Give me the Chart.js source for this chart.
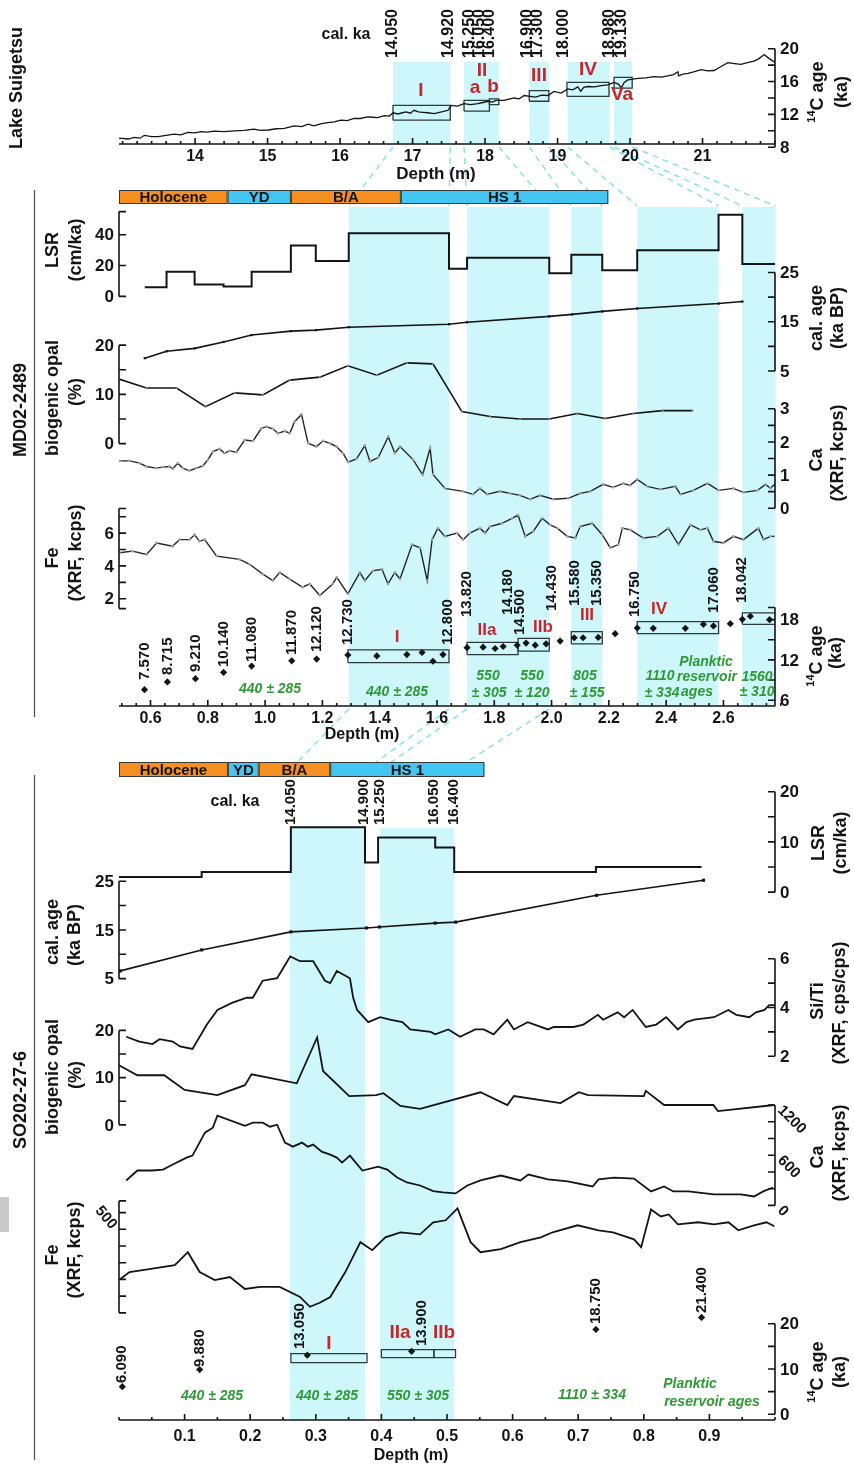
<!DOCTYPE html>
<html>
<head>
<meta charset="utf-8">
<title>Suigetsu / MD02-2489 / SO202-27-6</title>
<style>
  html, body { margin: 0; padding: 0; background: #fff; overflow: hidden; }
  #wrap { position: relative; width: 854px; height: 1468px; }
  canvas { display: block; }
  .blot { position: absolute; left: 0; top: 1197px; width: 9px; height: 35px; background: #c9c9c9; }
</style>
<script src="https://cdn.jsdelivr.net/npm/chart.js@4.4.1/dist/chart.umd.min.js"></script>
</head>
<body>
<div id="wrap">
  <canvas id="core" width="854" height="1468"></canvas>
  <div class="blot"></div>
</div>
<script>
// ---------- Lake Suigetsu ----------
const sgDepth = [12.95,13.08,13.16,13.24,13.30,13.40,13.49,13.60,13.71,13.80,13.90,14.00,14.08,14.17,14.26,14.40,14.54,14.68,14.81,14.90,
  15.01,15.12,15.23,15.30,15.37,15.47,15.56,15.64,15.73,15.83,15.92,16.01,16.10,16.19,16.28,16.38,16.45,16.52,16.61,16.68,
  16.73,16.80,16.86,16.91,16.97,17.02,17.08,17.14,17.21,17.30,17.40,17.49,17.53,17.62,17.71,17.80,17.90,17.97,18.04,18.10,
  18.15,18.26,18.33,18.40,18.47,18.54,18.62,18.70,18.78,18.87,18.95,19.05,19.14,19.21,19.28,19.32,19.36,19.42,19.51,19.60,
  19.69,19.78,19.84,19.88,19.92,19.97,20.04,20.11,20.22,20.33,20.43,20.52,20.60,20.66,20.67,20.73,20.80,20.89,20.98,21.07,
  21.16,21.25,21.35,21.44,21.53,21.62,21.71,21.78,21.85,21.92,21.99];
const sgAge = [9.1,9.0,9.2,9.1,9.45,9.3,9.3,9.45,9.6,9.5,9.8,9.75,9.9,9.85,9.95,9.9,10.0,10.05,10.2,10.05,
  10.1,10.25,10.3,10.45,10.6,10.5,10.8,10.6,10.85,11.0,11.1,11.3,11.25,11.5,11.5,11.7,11.65,11.6,11.85,11.8,
  12.2,12.05,12.2,12.3,12.15,12.5,12.3,12.25,12.2,12.1,12.3,12.5,13.1,13.0,13.3,13.2,13.3,13.45,13.6,13.5,
  13.7,13.7,13.85,14.0,13.9,14.3,14.2,14.1,14.35,14.3,14.8,14.6,15.1,15.0,15.35,14.8,15.3,15.4,15.35,15.5,
  15.6,15.9,15.7,15.25,15.9,16.2,16.3,16.4,16.45,16.6,16.55,16.7,16.85,17.2,16.7,16.9,17.0,17.2,17.45,17.3,
  17.35,17.8,18.3,18.2,18.1,18.3,18.5,18.8,19.3,18.8,18.4];
const sgBands = [[16.73,17.52],[17.71,18.19],[18.61,18.88],[19.14,19.72],[19.78,20.03]];
const sgBoxes = [[16.73,17.52,11.3,13.1],[17.71,18.06,12.4,13.7],[18.06,18.19,13.2,13.9],
  [18.61,18.88,13.6,14.9],[19.13,19.71,14.2,15.9],[19.78,20.03,15.2,16.5]];
const sgCalKa = ['14.050','14.920','15.250','16.050','16.400','16.900','17.300','18.000','18.980','19.130'];
const sgCalKaDepth = [16.73,17.50,17.78,17.92,18.06,18.59,18.73,19.09,19.72,19.88];
const sgDepthTicks = [14,15,16,17,18,19,20,21];

// ---------- MD02-2489 ----------
const eraNames = ['Holocene','YD','B/A','HS 1'];
const mdEraEdges = [0.49,0.869,1.09,1.474,2.198];
const mdBands = [[1.292,1.642],[1.705,1.992],[2.069,2.177],[2.299,2.583],[2.666,2.782]];
const mdLsrDepth = [0.58,0.656,0.754,0.855,0.953,1.09,1.177,1.292,1.642,1.705,1.992,2.069,2.177,2.299,2.583,2.666,2.782];
const mdLsr = [6,16,7.7,6.5,16,33,23,41,18,25,15,27,17,30,53,21,21];
const mdCalDepth = [0.58,0.656,0.754,0.855,0.953,1.09,1.177,1.292,1.642,1.705,1.992,2.072,2.177,2.299,2.583,2.666];
const mdCal = [7.6,9.0,9.6,10.9,12.3,13.1,13.3,13.9,14.5,14.9,16.1,16.5,17.1,17.7,18.7,19.1];
const mdOpalDepth = [0.49,0.586,0.691,0.792,0.894,0.992,1.086,1.191,1.289,1.39,1.495,1.586,1.687,1.785,1.89,1.992,2.09,2.187,2.285,2.387,2.492];
const mdOpal = [13.1,11.3,11.3,7.5,10.3,9.9,12.9,13.5,15.8,13.9,16.4,16.2,6.5,5.5,5.0,5.0,6.1,5.1,6.1,6.7,6.7];
const mdCaDepth = [0.492,0.527,0.562,0.585,0.620,0.643,0.666,0.678,0.695,0.713,0.736,0.760,0.783,0.800,0.818,0.841,0.859,0.876,0.900,0.929,
  0.958,0.987,1.005,1.028,1.045,1.069,1.086,1.103,1.127,1.150,1.179,1.202,1.226,1.249,1.272,1.290,1.319,1.348,1.366,1.395,
  1.430,1.453,1.471,1.517,1.550,1.576,1.586,1.628,1.691,1.726,1.750,1.775,1.820,1.855,1.890,1.925,1.960,2.006,2.058,2.100,
  2.135,2.180,2.215,2.250,2.274,2.299,2.334,2.380,2.432,2.450,2.495,2.544,2.583,2.635,2.670,2.719,2.747,2.764,2.782];
const mdCa = [1.43,1.43,1.36,1.26,1.21,1.24,1.26,1.19,1.36,1.21,1.13,1.21,1.28,1.46,1.71,1.79,1.66,1.73,1.69,2.06,
  2.03,2.41,2.46,2.39,2.26,2.33,2.26,2.61,2.83,1.96,1.86,2.03,1.96,1.86,1.66,1.39,1.49,1.89,1.41,1.53,
  2.16,1.66,1.86,1.46,1.01,1.81,1.02,0.60,0.51,0.42,0.60,0.42,0.51,0.45,0.39,0.27,0.39,0.27,0.30,0.45,
  0.51,0.72,0.63,0.75,0.69,0.87,0.66,0.57,0.66,0.42,0.54,0.75,0.54,0.60,0.48,0.54,0.72,0.60,0.75];
const mdFeDepth = [0.492,0.537,0.586,0.621,0.677,0.701,0.736,0.754,0.771,0.789,0.831,0.911,0.946,0.992,1.027,1.051,1.086,1.131,1.156,1.191,
  1.236,1.250,1.289,1.331,1.348,1.376,1.408,1.429,1.453,1.471,1.513,1.541,1.566,1.583,1.603,1.628,1.670,1.691,1.715,1.750,
  1.768,1.785,1.827,1.862,1.883,1.908,1.936,1.967,1.995,2.020,2.055,2.083,2.100,2.142,2.177,2.205,2.233,2.247,2.275,2.320,
  2.369,2.408,2.443,2.485,2.520,2.544,2.565,2.600,2.635,2.670,2.722,2.740,2.764,2.782];
const mdFe = [4.8,4.9,4.7,5.4,5.2,5.6,5.6,5.9,5.5,5.6,4.6,4.4,4.1,3.5,3.1,3.6,3.2,2.7,2.9,2.2,
  2.9,3.3,2.3,3.6,3.1,3.7,3.8,2.9,3.6,3.2,5.3,5.1,3.1,5.6,6.3,5.8,6.0,5.6,6.0,6.3,
  6.0,6.4,6.6,6.9,7.1,5.8,6.1,6.9,6.5,6.3,5.8,5.7,6.4,6.6,5.9,5.1,5.3,6.3,6.2,5.7,
  5.8,6.3,5.3,6.5,6.2,6.3,5.5,5.4,5.8,5.6,6.3,5.6,5.8,5.8];
const md14cDepth = [0.579,0.659,0.757,0.855,0.953,1.093,1.180,1.289,1.390,1.495,1.548,1.586,1.621,1.705,1.761,1.803,1.831,1.880,1.911,1.943,
  1.981,2.030,2.079,2.110,2.163,2.222,2.299,2.355,2.467,2.530,2.565,2.624,2.666,2.694,2.761];
const md14c = [7.57,8.715,9.21,10.14,11.08,11.87,12.12,12.73,12.6,12.8,13.1,11.8,12.8,13.82,13.9,13.7,14.0,14.18,14.5,14.2,
  14.4,14.8,15.3,15.3,15.35,15.9,16.75,16.7,16.7,17.3,17.06,17.4,18.04,18.5,18.0];
const mdBoxes = [[1.289,1.642,11.6,13.5],[1.705,1.883,12.8,14.6],[1.883,1.992,13.3,15.2],
  [2.069,2.177,14.4,16.2],[2.299,2.583,15.9,17.7],[2.666,2.782,17.3,19.0]];
const mdAgeLabels = ['7.570','8.715','9.210','10.140','11.080','11.870','12.120','12.730','12.800','13.820',
  '14.180','14.500','14.430','15.580','15.350','16.750','17.060','18.042'];
const mdAgeLabelDepth = [0.579,0.659,0.757,0.855,0.953,1.093,1.180,1.289,1.638,1.705,1.848,1.890,2.002,2.083,2.159,2.292,2.565,2.663];
const mdDepthTicks = [0.6,0.8,1.0,1.2,1.4,1.6,1.8,2.0,2.2,2.4,2.6];

// ---------- SO202-27-6 ----------
const soEraEdges = [0,0.166,0.213,0.322,0.557];
const soBands = [[0.2605,0.375],[0.398,0.511]];
const soLsrDepth = [0,0.126,0.262,0.375,0.395,0.482,0.511,0.727,0.888];
const soLsr = [3.0,4.0,12.9,5.9,10.9,8.9,4.0,5.0,5.0];
const soCalDepth = [0.002,0.126,0.262,0.377,0.397,0.482,0.513,0.728,0.891];
const soCal = [6.6,10.9,14.6,15.4,15.6,16.4,16.6,22.1,25.2];
const soSiTiDepth = [0.011,0.031,0.051,0.062,0.082,0.093,0.112,0.134,0.150,0.173,0.195,0.204,0.219,0.241,0.250,0.261,0.276,0.296,0.314,0.322,
  0.332,0.352,0.357,0.363,0.380,0.398,0.413,0.432,0.444,0.475,0.482,0.502,0.520,0.543,0.556,0.571,0.592,0.602,0.623,0.654,
  0.663,0.693,0.708,0.730,0.738,0.760,0.770,0.783,0.803,0.819,0.834,0.852,0.865,0.877,0.907,0.929,0.941,0.961,0.971,0.984,
  0.991,1.0];
const soSiTi = [2.8,2.6,2.5,2.7,2.6,2.4,2.3,3.3,3.9,4.2,4.4,4.4,5.1,5.2,5.6,6.1,5.9,5.9,5.1,5.0,
  5.5,5.2,4.4,3.9,3.4,3.6,3.5,3.4,3.1,3.0,2.9,3.1,2.8,3.1,3.1,2.9,3.5,3.1,3.4,3.1,
  3.2,3.2,3.3,3.7,3.5,3.8,3.6,3.9,3.2,3.3,3.6,3.1,3.4,3.5,3.6,3.9,3.7,3.6,3.8,3.9,
  4.1,4.1];
const soOpalDepth = [0.0,0.028,0.069,0.1,0.150,0.192,0.202,0.271,0.302,0.311,0.351,0.392,0.403,0.429,0.459,0.551,0.592,0.602,0.673,0.701,
  0.715,0.800,0.803,0.831,0.906,0.913,0.999];
const soOpal = [12.6,10.5,10.5,7.4,6.3,8.4,10.7,8.8,18.5,11.4,6.1,6.3,6.7,4.0,3.4,6.9,4.2,6.1,4.6,6.9,
  6.3,6.1,7.2,4.2,4.2,2.9,4.2];
const soCaDepth = [0.011,0.028,0.050,0.067,0.082,0.103,0.112,0.131,0.143,0.150,0.192,0.204,0.219,0.230,0.241,0.253,0.265,0.279,0.288,0.296,
  0.309,0.322,0.332,0.340,0.352,0.371,0.395,0.409,0.424,0.439,0.459,0.479,0.494,0.513,0.531,0.551,0.582,0.612,0.624,0.654,
  0.684,0.722,0.731,0.755,0.785,0.811,0.831,0.845,0.868,0.907,0.948,0.968,0.982,0.997];
const soCa = [298,417,417,428,488,571,595,869,928,1071,952,988,988,940,964,750,702,750,702,726,
  643,607,571,512,595,417,464,428,333,274,238,170,155,143,238,298,357,298,369,310,
  286,226,310,333,321,167,226,167,167,131,131,107,167,214];
const soFeDepth = [0.002,0.016,0.046,0.085,0.105,0.123,0.146,0.169,0.192,0.215,0.245,0.276,0.291,0.306,0.322,0.345,0.368,0.386,0.406,0.429,
  0.459,0.479,0.498,0.516,0.536,0.551,0.582,0.612,0.643,0.661,0.699,0.731,0.753,0.785,0.796,0.811,0.826,0.838,0.852,0.883,
  0.907,0.929,0.944,0.968,0.987,0.999];
const soFe = [202,244,262,286,363,244,196,214,143,155,155,95,36,60,95,244,423,375,452,482,
  470,542,554,625,423,363,381,423,452,482,524,494,482,440,393,619,577,589,530,542,
  530,542,494,524,542,518];
const so14cDepth = [0.005,0.123,0.287,0.446,0.727,0.888];
const so14c = [6.09,9.88,13.05,13.9,18.75,21.4];
const soBoxes = [[0.262,0.378,11.4,13.4],[0.400,0.480,12.5,14.3],[0.480,0.513,12.5,14.3]];
const soAgeLabels = ['6.090','9.880','13.050','13.900','18.750','21.400'];
const soAgeLabelDepth = [0.005,0.123,0.275,0.461,0.727,0.888];
const soCalKa = ['14.050','14.900','15.250','16.050','16.400'];
const soCalKaDepth = [0.262,0.373,0.398,0.480,0.511];
const soDepthTicks = [0.1,0.2,0.3,0.4,0.5,0.6,0.7,0.8,0.9];

// ---------- layout ----------
const H = 1468;
const INK = '#141414';
const RED = '#c7262c';
const GREEN = '#2f9a35';
const CYAN = '#cdf7fa';
const ORANGE = '#f58f1f';
const BLUE = '#43c7f2';
const FONT = '"Liberation Sans", Arial, Helvetica, sans-serif';

// y scales: value/page-pixel anchor pairs
const yAnchors = {
  ySg:    [8, 144, 20, 45],
  yMLsr:  [0, 294, 40, 232],
  yMCal:  [5, 369, 25, 270],
  yMOpal: [0, 442, 20, 343],
  yMCa:   [0, 507, 3, 407],
  yMFe:   [2, 598, 6, 532],
  yM14c:  [6, 700, 18, 619],
  ySLsr:  [0, 893, 20, 792],
  ySCal:  [5, 980, 25, 882],
  ySSiTi: [2, 1058, 6, 960],
  ySOpal: [0, 1127, 20, 1032],
  ySCa:   [0, 1208, 1200, 1107],
  ySFe:   [0, 1316, 500, 1232],
  yS14c:  [0, 1418, 20, 1327]
};
function fit(a) {
  const k = (a[2] - a[0]) / (a[3] - a[1]);
  return { min: a[0] + (H - a[1]) * k, max: a[0] - a[1] * k };
}

const yAxisMarks = [
  { id: 'ySg', side: 'r', span: [8, 20], ticks: [8,10,12,14,16,18,20], labels: [8,12,16,20] },
  { id: 'yMLsr', side: 'l', span: [0, 55], ticks: [0,20,40,55], labels: [0,20,40] },
  { id: 'yMCal', side: 'r', span: [5, 25], ticks: [5,10,15,20,25], labels: [5,15,25] },
  { id: 'yMOpal', side: 'l', span: [0, 20], ticks: [0,5,10,15,20], labels: [0,10,20] },
  { id: 'yMCa', side: 'r', span: [0, 3], ticks: [0,0.5,1,1.5,2,2.5,3], labels: [0,1,2,3] },
  { id: 'yMFe', side: 'l', span: [1.4, 7.5], ticks: [1.4,2,3,4,5,6,7,7.5], labels: [2,4,6] },
  { id: 'yM14c', side: 'r', span: [5.1, 19.8], ticks: [6,9,12,15,18,19.8], labels: [6,12,18] },
  { id: 'ySLsr', side: 'r', span: [0, 20], ticks: [0,5,10,15,20], labels: [0,10,20] },
  { id: 'ySCal', side: 'l', span: [5, 25], ticks: [5,10,15,20,25], labels: [5,15,25] },
  { id: 'ySSiTi', side: 'r', span: [2, 6], ticks: [2,3,4,5,6], labels: [2,4,6] },
  { id: 'ySOpal', side: 'l', span: [0, 20], ticks: [0,5,10,15,20], labels: [0,10,20] },
  { id: 'ySCa', side: 'r', span: [0, 1200], ticks: [0,200,400,600,800,1000,1200], labels: [0,600,1200], rot: 45 },
  { id: 'ySFe', side: 'l', span: [0, 670], ticks: [0,100,200,300,400,500,600,670], labels: [500], rot: 50 },
  { id: 'yS14c', side: 'r', span: [0, 20], ticks: [0,5,10,15,20], labels: [0,10,20] }
];
const xAxisMarks = [
  { id: 'xSg', y: 144, labels: sgDepthTicks, minor: 0.2, from: 13, to: 22, labelY: 157, dec: 0, title: [436, 174], tsize: 17 },
  { id: 'xMd', y: 706, labels: mdDepthTicks, minor: 0.05, from: 0.5, to: 2.78, labelY: 719, dec: 1, title: [362, 735], tsize: 16 },
  { id: 'xSo', y: 1420, labels: soDepthTicks, minor: 0.05, from: 0, to: 1.0, labelY: 1437, dec: 1, title: [411, 1456], tsize: 16 }
];

// ---------- helpers ----------
const pts = (xs, ys) => xs.map((x, i) => ({ x: x, y: ys[i] }));
const boxPts = b => [{x:b[0],y:b[2]},{x:b[1],y:b[2]},{x:b[1],y:b[3]},{x:b[0],y:b[3]},{x:b[0],y:b[2]}];
function line(xId, yId, xs, ys, extra) {
  return Object.assign({
    xAxisID: xId, yAxisID: yId, data: pts(xs, ys),
    borderColor: INK, borderWidth: 1.6, pointRadius: 0, tension: 0, fill: false
  }, extra || {});
}
function boxes(xId, yId, list) {
  return list.map(b => ({
    xAxisID: xId, yAxisID: yId, data: boxPts(b),
    borderColor: '#2c3a3a', borderWidth: 1.3, pointRadius: 0, tension: 0, fill: false
  }));
}
const dotted = { pointRadius: 1.4, pointBackgroundColor: '#a3a3a3', pointBorderWidth: 0, borderWidth: 1.4, borderColor: '#262626' };
const squares = { pointRadius: 2.2, pointStyle: 'rect', pointBackgroundColor: INK, pointBorderWidth: 0 };
const diamonds = { showLine: false, pointRadius: 3.6, pointStyle: 'rectRot', pointBackgroundColor: INK, pointBorderWidth: 0 };

function put(ctx, segs, x, y, o) {
  o = o || {};
  const size = o.size || 16, weight = o.weight || 'bold', style = o.style || 'normal';
  if (typeof segs === 'string') segs = [[segs, size, 0]];
  ctx.save();
  ctx.translate(x, y);
  if (o.rot) ctx.rotate(o.rot * Math.PI / 180);
  ctx.fillStyle = o.color || INK;
  ctx.textBaseline = 'middle';
  ctx.textAlign = 'left';
  let w = 0;
  for (const s of segs) { ctx.font = style + ' ' + weight + ' ' + s[1] + 'px ' + FONT; w += ctx.measureText(s[0]).width; }
  let cx = o.align === 'left' ? 0 : (o.align === 'right' ? -w : -w / 2);
  for (const s of segs) {
    ctx.font = style + ' ' + weight + ' ' + s[1] + 'px ' + FONT;
    ctx.fillText(s[0], cx, s[2]);
    cx += ctx.measureText(s[0]).width;
  }
  ctx.restore();
}
const c14 = [['14', 11, -6], ['C age', 18, 0]];

// axis titles and free text (page positions)
const titles = [
  ['Lake Suigetsu', 17, 88, -90, 18], ['MD02-2489', 21, 410, -90, 18], ['SO202-27-6', 21, 1100, -90, 18],
  [c14, 818, 92, -90], ['(ka)', 842, 92, -90, 18],
  ['LSR', 53, 250, -90, 18], ['(cm/ka)', 76, 250, -90, 18],
  ['biogenic opal', 53, 398, -90, 18], ['(%)', 76, 392, -90, 18],
  ['Fe', 53, 558, -90, 18], ['(XRF, kcps)', 76, 553, -90, 18],
  ['cal. age', 817, 318, -90, 18], ['(ka BP)', 838, 318, -90, 18],
  ['Ca', 817, 460, -90, 18], ['(XRF, kcps)', 838, 453, -90, 18],
  [c14, 817, 656, -90], ['(ka)', 836, 653, -90, 18],
  ['LSR', 819, 843, -90, 18], ['(cm/ka)', 841, 843, -90, 18],
  ['cal. age', 53, 932, -90, 18], ['(ka BP)', 75, 935, -90, 18],
  ['Si/Ti', 818, 1001, -90, 18], ['(XRF, cps/cps)', 840, 1003, -90, 18],
  ['biogenic opal', 53, 1077, -90, 18], ['(%)', 76, 1075, -90, 18],
  ['Ca', 818, 1157, -90, 18], ['(XRF, kcps)', 840, 1153, -90, 18],
  ['Fe', 53, 1255, -90, 18], ['(XRF, kcps)', 75, 1250, -90, 18],
  [c14, 818, 1372, -90], ['(ka)', 840, 1372, -90, 18],
  ['cal. ka', 346, 35, 0, 16], ['cal. ka', 235, 802, 0, 16]
];
const redMarks = [
  ['I', 421, 91, 19], ['II', 482, 71, 19], ['a', 475, 88, 19], ['b', 493, 87, 19], ['III', 539, 76, 19], ['IV', 588, 70, 19], ['Va', 622, 95, 19],
  ['I', 397, 637, 17], ['IIa', 487, 630, 17], ['IIb', 543, 627, 17], ['III', 587, 615, 17], ['IV', 659, 609, 17],
  ['I', 329, 1344, 19], ['IIa', 400, 1333, 19], ['IIb', 444, 1333, 19]
];
const greenNotes = [
  ['440 \u00b1 285', 270, 689], ['440 \u00b1 285', 397, 692], ['550', 488, 676], ['\u00b1 305', 489, 693],
  ['550', 532, 676], ['\u00b1 120', 532, 693], ['805', 585, 676], ['\u00b1 155', 587, 693],
  ['1110', 660, 676], ['\u00b1 334', 662, 693], ['Planktic', 706, 662], ['reservoir', 707, 677], ['ages', 697, 692],
  ['1560', 757, 677], ['\u00b1 310', 757, 692],
  ['440 \u00b1 285', 212, 1396], ['440 \u00b1 285', 327, 1396], ['550 \u00b1 305', 418, 1396], ['1110 \u00b1 334', 592, 1395],
  ['Planktic', 690, 1384], ['reservoir ages', 712, 1402]
];
const mdAgeLabelBottom = [680,675,672,667,662,655,652,645,645,617,615,635,611,606,606,617,613,603];
const soAgeLabelBottom = [1383,1367,1349,1346,1324,1313];

const bandSets = [
  { x: 'xSg', bands: sgBands, top: 62, bottom: 144 },
  { x: 'xMd', bands: mdBands, top: 207, bottom: 706 },
  { x: 'xSo', bands: soBands, top: 828, bottom: 1420 }
];
const links = [
  { a: 'xSg', from: sgBands, y0: 147, b: 'xMd', to: mdBands, y1: 206 },
  { a: 'xMd', from: mdBands.slice(0, 2), y0: 709, b: 'xSo', to: soBands, y1: 770 }
];
const eraBars = [
  { x: 'xMd', edges: mdEraEdges, top: 190, h: 14 },
  { x: 'xSo', edges: soEraEdges, top: 762, h: 15 }
];

const decor = {
  id: 'decor',
  beforeDatasetsDraw(chart) {
    const ctx = chart.ctx, sc = chart.scales;
    ctx.save();
    ctx.fillStyle = CYAN;
    for (const set of bandSets) {
      const s = sc[set.x];
      for (const b of set.bands) {
        const x0 = s.getPixelForValue(b[0]), x1 = s.getPixelForValue(b[1]);
        ctx.fillRect(x0, set.top, x1 - x0, set.bottom - set.top);
      }
    }
    ctx.strokeStyle = '#86e2ec';
    ctx.lineWidth = 1.5;
    ctx.setLineDash([6, 5]);
    for (const l of links) {
      l.from.forEach((band, i) => {
        for (let j = 0; j < 2; j++) {
          ctx.beginPath();
          ctx.moveTo(sc[l.a].getPixelForValue(band[j]), l.y0);
          ctx.lineTo(sc[l.b].getPixelForValue(l.to[i][j]), l.y1);
          ctx.stroke();
        }
      });
    }
    ctx.setLineDash([]);
    // panel side rules
    ctx.strokeStyle = '#555';
    ctx.lineWidth = 1.3;
    ctx.beginPath(); ctx.moveTo(34.5, 190); ctx.lineTo(34.5, 717); ctx.stroke();
    ctx.beginPath(); ctx.moveTo(34.5, 775); ctx.lineTo(34.5, 1460); ctx.stroke();
    ctx.restore();
  },
  afterDatasetsDraw(chart) {
    const ctx = chart.ctx, sc = chart.scales, area = chart.chartArea;
    ctx.save();
    // era bars
    for (const e of eraBars) {
      const s = sc[e.x];
      for (let i = 0; i < eraNames.length; i++) {
        const x0 = s.getPixelForValue(e.edges[i]), x1 = s.getPixelForValue(e.edges[i + 1]);
        ctx.fillStyle = i % 2 ? BLUE : ORANGE;
        ctx.fillRect(x0, e.top, x1 - x0, e.h);
        ctx.strokeStyle = '#3a3a3a'; ctx.lineWidth = 1;
        ctx.strokeRect(x0 + 0.5, e.top + 0.5, x1 - x0 - 1, e.h - 1);
        put(ctx, eraNames[i], (x0 + x1) / 2, e.top + e.h / 2 + 1, { size: 15 });
      }
    }
    // y axes
    ctx.strokeStyle = INK;
    ctx.lineWidth = 1.6;
    for (const a of yAxisMarks) {
      const s = sc[a.id];
      const x = a.side === 'l' ? area.left : area.right;
      const dir = a.side === 'l' ? 1 : -1;
      ctx.beginPath();
      ctx.moveTo(x, s.getPixelForValue(a.span[0]));
      ctx.lineTo(x, s.getPixelForValue(a.span[1]));
      for (const t of a.ticks) {
        const y = s.getPixelForValue(t);
        ctx.moveTo(x, y); ctx.lineTo(x + dir * 7, y);
      }
      ctx.stroke();
      for (const v of a.labels) {
        const y = s.getPixelForValue(v);
        if (a.rot) put(ctx, String(v), x - dir * 5, y + (a.side === 'l' ? -2 : 3), { size: 15, rot: a.rot, align: a.side === 'l' ? 'right' : 'left' });
        else put(ctx, String(v), x - dir * 5, y + 1, { size: 17, align: a.side === 'l' ? 'right' : 'left' });
      }
    }
    // x axes
    for (const a of xAxisMarks) {
      const s = sc[a.id];
      ctx.beginPath();
      ctx.moveTo(area.left, a.y); ctx.lineTo(area.right, a.y);
      const n = Math.round((a.to - a.from) / a.minor);
      for (let i = 0; i <= n; i++) {
        const v = a.from + i * a.minor;
        const px = s.getPixelForValue(v);
        ctx.moveTo(px, a.y); ctx.lineTo(px, a.y - 3);
      }
      for (const v of a.labels) {
        const px = s.getPixelForValue(v);
        ctx.moveTo(px, a.y); ctx.lineTo(px, a.y - 6);
      }
      ctx.stroke();
      for (const v of a.labels) put(ctx, v.toFixed(a.dec), s.getPixelForValue(v), a.labelY, { size: 16 });
      put(ctx, 'Depth (m)', a.title[0], a.title[1], { size: a.tsize });
    }
    // rotated age labels
    sgCalKa.forEach((t, i) => put(ctx, t, sc.xSg.getPixelForValue(sgCalKaDepth[i]), 58, { size: 16, rot: -90, align: 'left' }));
    mdAgeLabels.forEach((t, i) => put(ctx, t, sc.xMd.getPixelForValue(mdAgeLabelDepth[i]), mdAgeLabelBottom[i], { size: 15, rot: -90, align: 'left' }));
    soCalKa.forEach((t, i) => put(ctx, t, sc.xSo.getPixelForValue(soCalKaDepth[i]), 825, { size: 15, rot: -90, align: 'left' }));
    soAgeLabels.forEach((t, i) => put(ctx, t, sc.xSo.getPixelForValue(soAgeLabelDepth[i]), soAgeLabelBottom[i], { size: 15, rot: -90, align: 'left' }));
    // titles & notes
    for (const t of titles) put(ctx, t[0], t[1], t[2], { rot: t[3], size: t[4] || 18 });
    for (const r of redMarks) put(ctx, r[0], r[1], r[2], { size: r[3], color: RED });
    for (const g of greenNotes) put(ctx, g[0], g[1], g[2], { size: 14, color: GREEN, style: 'italic' });
    ctx.restore();
  }
};

const scales = {
  xSg: { type: 'linear', min: 12.95, max: 22, display: false },
  xMd: { type: 'linear', min: 0.49, max: 2.78, display: false },
  xSo: { type: 'linear', min: 0, max: 1.0, display: false }
};
for (const id of Object.keys(yAnchors)) {
  scales[id] = Object.assign({ type: 'linear', display: false }, fit(yAnchors[id]));
}

const datasets = [
  line('xSg', 'ySg', sgDepth, sgAge, { borderWidth: 1.3 }),
  ...boxes('xSg', 'ySg', sgBoxes),

  line('xMd', 'yMLsr', mdLsrDepth, mdLsr, { stepped: 'before', borderWidth: 2 }),
  line('xMd', 'yMCal', mdCalDepth, mdCal, Object.assign({}, squares, { pointRadius: 1.6 })),
  line('xMd', 'yMOpal', mdOpalDepth, mdOpal, { pointRadius: 1.1, pointBackgroundColor: '#8a8a8a', pointBorderWidth: 0 }),
  line('xMd', 'yMCa', mdCaDepth, mdCa, dotted),
  line('xMd', 'yMFe', mdFeDepth, mdFe, dotted),
  line('xMd', 'yM14c', md14cDepth, md14c, diamonds),
  ...boxes('xMd', 'yM14c', mdBoxes),

  line('xSo', 'ySLsr', soLsrDepth, soLsr, { stepped: 'before', borderWidth: 2 }),
  line('xSo', 'ySCal', soCalDepth, soCal, squares),
  line('xSo', 'ySSiTi', soSiTiDepth, soSiTi, { borderWidth: 1.8 }),
  line('xSo', 'ySOpal', soOpalDepth, soOpal, { borderWidth: 1.8 }),
  line('xSo', 'ySCa', soCaDepth, soCa, { borderWidth: 1.8 }),
  line('xSo', 'ySFe', soFeDepth, soFe, { borderWidth: 1.8 }),
  line('xSo', 'yS14c', so14cDepth, so14c, diamonds),
  ...boxes('xSo', 'yS14c', soBoxes)
];

new Chart(document.getElementById('core'), {
  type: 'line',
  data: { datasets: datasets },
  options: {
    responsive: false,
    animation: false,
    events: [],
    layout: { padding: { left: 119, right: 79, top: 0, bottom: 0 } },
    plugins: { legend: { display: false }, tooltip: { enabled: false }, title: { display: false } },
    scales: scales
  },
  plugins: [decor]
});
</script>
</body>
</html>
